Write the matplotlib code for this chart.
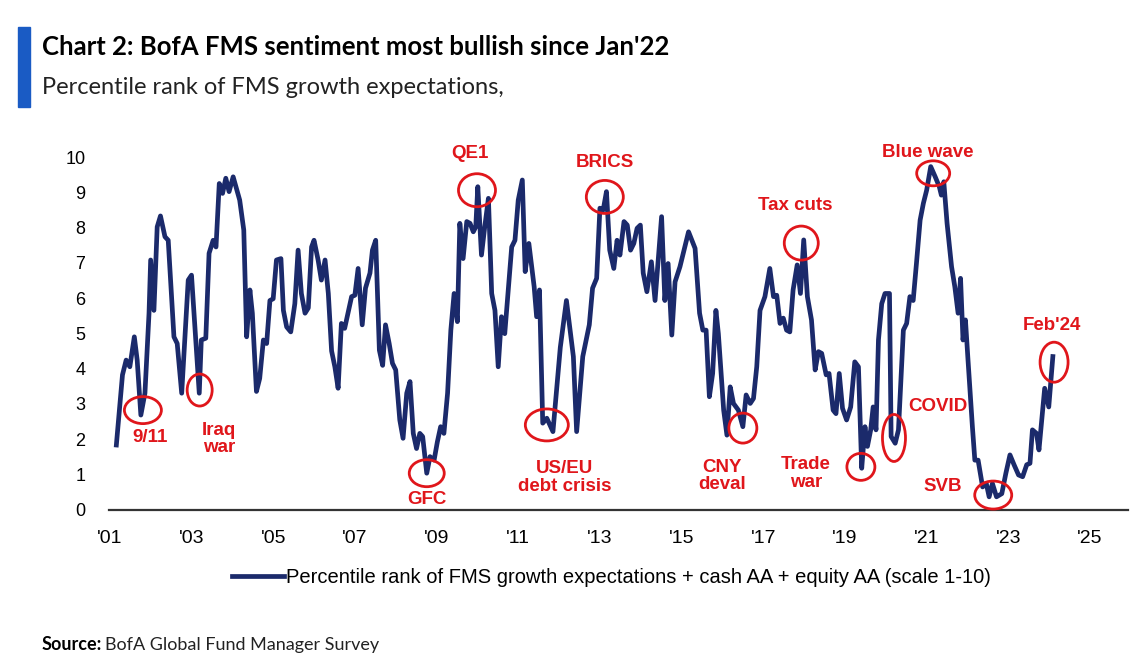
import matplotlib
matplotlib.use('Agg')
import matplotlib.pyplot as plt
from matplotlib.patches import Ellipse, Rectangle

# traced vertices of the series (decimal year, value on 0-10 scale)
years = [
    2001.16, 2001.31, 2001.40, 2001.49, 2001.60, 2001.67, 2001.76, 2001.86, 2001.96, 2002.00,
    2002.08, 2002.16, 2002.24, 2002.35, 2002.43, 2002.57, 2002.65, 2002.76, 2002.92, 2003.00,
    2003.19, 2003.24, 2003.35, 2003.43, 2003.53, 2003.60, 2003.68, 2003.76, 2003.84, 2003.92,
    2004.02, 2004.18, 2004.28, 2004.35, 2004.43, 2004.49, 2004.59, 2004.67, 2004.76, 2004.84,
    2004.92, 2005.00, 2005.08, 2005.19, 2005.25, 2005.33, 2005.43, 2005.53, 2005.61, 2005.69,
    2005.78, 2005.86, 2005.94, 2006.00, 2006.10, 2006.18, 2006.27, 2006.35, 2006.43, 2006.51,
    2006.59, 2006.67, 2006.75, 2006.92, 2007.00, 2007.08, 2007.18, 2007.26, 2007.37, 2007.43,
    2007.51, 2007.60, 2007.68, 2007.75, 2007.84, 2007.92, 2008.00, 2008.10, 2008.18, 2008.27,
    2008.35, 2008.43, 2008.51, 2008.59, 2008.66, 2008.76, 2008.84, 2008.94, 2009.02, 2009.10,
    2009.18, 2009.27, 2009.35, 2009.43, 2009.51, 2009.57, 2009.65, 2009.74, 2009.82, 2009.90,
    2009.96, 2010.01, 2010.10, 2010.18, 2010.27, 2010.35, 2010.43, 2010.51, 2010.59, 2010.67,
    2010.84, 2010.92, 2011.00, 2011.10, 2011.17, 2011.26, 2011.39, 2011.45, 2011.52, 2011.60,
    2011.70, 2011.85, 2012.03, 2012.18, 2012.35, 2012.43, 2012.58, 2012.74, 2012.82, 2012.92,
    2013.00, 2013.08, 2013.16, 2013.24, 2013.34, 2013.42, 2013.49, 2013.59, 2013.67, 2013.75,
    2013.83, 2013.91, 2013.99, 2014.06, 2014.15, 2014.26, 2014.35, 2014.51, 2014.59, 2014.67,
    2014.76, 2014.84, 2014.96, 2015.06, 2015.17, 2015.33, 2015.44, 2015.52, 2015.60, 2015.68,
    2015.76, 2015.84, 2015.90, 2016.03, 2016.11, 2016.19, 2016.27, 2016.39, 2016.50, 2016.58,
    2016.68, 2016.76, 2016.84, 2016.92, 2017.04, 2017.16, 2017.25, 2017.33, 2017.41, 2017.49,
    2017.57, 2017.65, 2017.73, 2017.83, 2017.91, 2017.99, 2018.08, 2018.18, 2018.27, 2018.35,
    2018.43, 2018.54, 2018.61, 2018.71, 2018.78, 2018.86, 2018.94, 2019.04, 2019.14, 2019.24,
    2019.33, 2019.41, 2019.49, 2019.55, 2019.63, 2019.69, 2019.76, 2019.82, 2019.90, 2019.98,
    2020.09, 2020.13, 2020.23, 2020.31, 2020.43, 2020.51, 2020.59, 2020.67, 2020.75, 2020.84,
    2020.92, 2021.00, 2021.10, 2021.21, 2021.31, 2021.36, 2021.42, 2021.50, 2021.61, 2021.69,
    2021.77, 2021.83, 2021.89, 2021.95, 2022.01, 2022.12, 2022.18, 2022.26, 2022.37, 2022.46,
    2022.53, 2022.61, 2022.71, 2022.84, 2022.94, 2023.04, 2023.14, 2023.25, 2023.35, 2023.45,
    2023.53, 2023.59, 2023.69, 2023.75, 2023.89, 2023.99, 2024.09,
]
values = [
    1.83, 3.82, 4.24, 4.05, 4.90, 4.24, 2.68, 3.30, 5.57, 7.08,
    5.65, 8.02, 8.33, 7.74, 7.64, 4.90, 4.71, 3.30, 6.51, 6.65,
    3.30, 4.81, 4.86, 7.27, 7.64, 7.45, 9.25, 8.97, 9.40, 9.02,
    9.44, 8.78, 7.93, 4.90, 6.23, 5.57, 3.35, 3.72, 4.81, 4.71,
    5.93, 5.98, 7.08, 7.12, 5.65, 5.18, 5.04, 5.84, 7.36, 6.13,
    5.57, 5.72, 7.45, 7.64, 7.08, 6.51, 7.08, 6.13, 4.50, 4.05,
    3.44, 5.28, 5.14, 6.04, 6.08, 6.84, 5.24, 6.28, 6.71, 7.36,
    7.64, 4.52, 4.09, 5.24, 4.71, 4.15, 3.96, 2.54, 2.02, 3.30,
    3.63, 2.16, 1.73, 2.16, 2.07, 1.03, 1.50, 1.40, 1.92, 2.35,
    2.16, 3.30, 5.09, 6.13, 5.33, 8.12, 7.12, 8.17, 8.12, 7.88,
    8.02, 9.16, 7.22, 8.02, 8.83, 6.13, 5.65, 4.05, 5.47, 4.99,
    7.45, 7.64, 8.78, 9.35, 6.75, 7.55, 6.32, 5.47, 6.23, 2.45,
    2.59, 2.21, 4.60, 5.93, 4.34, 2.21, 4.34, 5.24, 6.28, 6.56,
    8.55, 8.50, 9.02, 7.36, 6.84, 7.64, 7.22, 8.17, 8.07, 7.36,
    7.55, 7.98, 8.07, 6.71, 6.18, 7.03, 5.93, 8.31, 5.93, 6.98,
    4.95, 6.46, 6.89, 7.36, 7.88, 7.41, 5.57, 5.09, 5.09, 3.20,
    3.86, 5.65, 4.99, 2.82, 2.11, 3.48, 3.01, 2.82, 2.35, 3.25,
    3.01, 3.15, 4.05, 5.65, 6.04, 6.84, 6.04, 6.08, 5.28, 5.43,
    5.09, 5.04, 6.23, 6.94, 6.13, 7.65, 6.04, 5.38, 3.96, 4.48,
    4.43, 3.82, 3.86, 2.82, 2.72, 3.86, 2.87, 2.54, 2.91, 4.19,
    4.05, 1.17, 2.35, 1.79, 2.26, 2.91, 2.26, 4.81, 5.84, 6.13,
    6.13, 2.07, 1.88, 2.26, 5.09, 5.28, 6.04, 5.93, 6.98, 8.21,
    8.69, 9.06, 9.73, 9.44, 9.16, 8.92, 9.30, 8.12, 6.89, 6.32,
    5.57, 6.56, 4.81, 5.38, 4.29, 2.35, 1.40, 1.40, 0.64, 0.74,
    0.36, 0.74, 0.36, 0.45, 1.03, 1.55, 1.27, 0.98, 0.93, 1.27,
    1.31, 2.26, 2.16, 1.69, 3.44, 2.91, 4.34,
]

tick_years = list(range(2001, 2026, 2))
tick_labels = ["'%02d" % (y % 100) for y in tick_years]

# event labels: text, ellipse centre (year, value), label position (year, value)
events = ['9/11', 'Iraq\nwar', 'GFC', 'QE1', 'US/EU\ndebt crisis', 'BRICS', 'CNY\ndeval',
          'Tax cuts', 'Trade\nwar', 'COVID', 'Blue wave', 'SVB', "Feb'24"]
event_centres = [(2001.81, 2.82), (2003.20, 3.39), (2008.76, 1.03), (2009.99, 9.06),
                 (2011.70, 2.40), (2013.12, 8.87), (2016.50, 2.31), (2017.93, 7.56),
                 (2019.39, 1.21), (2020.20, 2.03), (2021.16, 9.54), (2022.63, 0.41),
                 (2024.12, 4.18)]
event_text_pos = [(2001.98, 2.03), (2003.68, 2.0), (2008.76, 0.27), (2009.82, 10.1),
                  (2012.14, 0.9), (2013.12, 9.86), (2015.99, 0.95), (2017.78, 8.64),
                  (2018.05, 1.02), (2021.28, 2.91), (2021.03, 10.14), (2021.40, 0.64),
                  (2024.06, 5.23)]
ellipse_px = [(37, 27), (25, 32), (35, 27), (37, 33), (43, 32), (37, 33), (28, 30),
              (34, 34), (28, 27), (23, 47), (33, 25), (37, 28), (28, 40)]

navy = '#1b2a6b'
red = '#e0161b'

fig = plt.figure(figsize=(11.41, 6.61), dpi=100)
ax = fig.add_axes([109 / 1141, 1 - 509.5 / 661, (1128 - 109) / 1141, (509.5 - 143) / 661])

ax.plot(years, values, color=navy, lw=3.4, solid_joinstyle='round',
        label='Percentile rank of FMS growth expectations + cash AA + equity AA (scale 1-10)')

x0, x1 = 2000.98, 2025.93
ax.set_xlim(x0, x1)
ax.set_ylim(0, 10.4)
px_per_year = (1128 - 109) / (x1 - x0)
px_per_unit = (509.5 - 143) / 10.4

for txt, (cx, cy), (tx, ty), (w, h) in zip(events, event_centres, event_text_pos, ellipse_px):
    ax.add_patch(Ellipse((cx, cy), w / px_per_year, h / px_per_unit, fill=False,
                         edgecolor=red, lw=2.0, clip_on=False, zorder=4))
    ax.text(tx, ty, txt, color=red, fontsize=13.5, fontweight='bold', ha='center',
            va='center', family='Liberation Sans', linespacing=1.05, clip_on=False)

for s in ['top', 'right', 'left']:
    ax.spines[s].set_visible(False)
ax.spines['bottom'].set_color('#333333')
ax.spines['bottom'].set_linewidth(1.6)

ax.set_yticks(range(0, 11))
ax.set_xticks(tick_years)
ax.set_xticklabels(tick_labels)
ax.tick_params(axis='y', length=0, pad=17, labelsize=13)
ax.tick_params(axis='x', length=0, pad=15, labelsize=14)
for lab in ax.get_xticklabels() + ax.get_yticklabels():
    lab.set_family('Liberation Sans')

leg = fig.legend(loc='center', bbox_to_anchor=(0.536, 0.1256), frameon=False,
                 handlelength=2.6, handletextpad=0.1,
                 prop={'family': 'Liberation Sans', 'size': 14.5})

# header
fig.add_artist(Rectangle((18 / 1141, 1 - 107 / 661), 12 / 1141, 80 / 661,
                         transform=fig.transFigure, color='#1a5bc4'))
fig.text(42 / 1141, 1 - 47 / 661, "Chart 2: BofA FMS sentiment most bullish since Jan'22",
         fontsize=18.5, fontweight='bold', family='Lato', va='center', ha='left')
fig.text(42 / 1141, 1 - 88 / 661, 'Percentile rank of FMS growth expectations,',
         fontsize=17, fontweight='normal', family='Lato', va='center', ha='left',
         color='#222222')

t = fig.text(42 / 1141, 1 - 645 / 661, 'Source:', fontsize=13, fontweight='bold',
             family='Lato', va='center', ha='left')
fig.canvas.draw()
bb = t.get_window_extent()
fig.text((bb.x1 + 3) / 1141, 1 - 645 / 661, 'BofA Global Fund Manager Survey', fontsize=13,
         fontweight='normal', family='Lato', va='center', ha='left', color='#222222')

fig.savefig('out.png', dpi=100)
